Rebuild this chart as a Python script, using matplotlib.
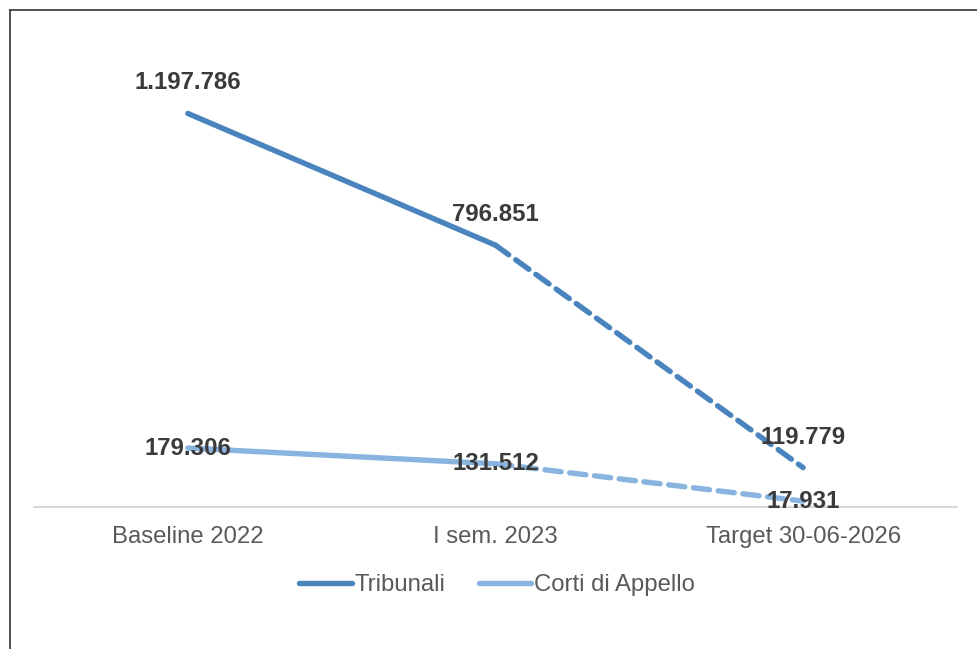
import matplotlib.pyplot as plt
from matplotlib.lines import Line2D

# data
categorie = ["Baseline 2022", "I sem. 2023", "Target 30-06-2026"]
tribunali = [1197786, 796851, 119779]
corti_appello = [179306, 131512, 17931]

col_trib = "#4a84bf"
col_corti = "#89b4e0"


def fmt_it(v):
    return f"{v:,}".replace(",", ".")


plt.rcParams['font.family'] = ['Liberation Sans', 'DejaVu Sans']

fig = plt.figure(figsize=(9.78, 6.49), dpi=100)
ax = fig.add_axes([0.0348, 0.2188, 0.9437, 0.7088])

x = list(range(len(categorie)))

for serie, col in [(tribunali, col_trib), (corti_appello, col_corti)]:
    ax.plot(x[:2], serie[:2], color=col, lw=3.9, solid_capstyle="round")
    ax.plot(x[1:], serie[1:], color=col, lw=3.9, ls=(0, (3, 1.6)),
            dash_capstyle="round")

# data labels
for i, v in enumerate(tribunali):
    ax.annotate(fmt_it(v), (x[i], v), xytext=(0, 22), textcoords="offset points",
                ha="center", va="center", fontsize=17.3, fontweight="bold",
                color="#3a3a3a")
for i, v in enumerate(corti_appello):
    ax.annotate(fmt_it(v), (x[i], v), xytext=(0, 0), textcoords="offset points",
                ha="center", va="center", fontsize=17.3, fontweight="bold",
                color="#3a3a3a")

ax.set_xlim(-0.5, 2.5)
ax.set_ylim(0, 1400000)
ax.set_xticks(x)
ax.set_xticklabels(categorie, fontsize=17.2, color="#595959")
ax.tick_params(axis="x", length=0, pad=14)
ax.set_yticks([])
for s in ["left", "right", "top"]:
    ax.spines[s].set_visible(False)
ax.spines["bottom"].set_color("#d0d0d0")
ax.spines["bottom"].set_linewidth(1.2)

handles = [Line2D([], [], color=col_trib, lw=3.9, solid_capstyle="round"),
           Line2D([], [], color=col_corti, lw=3.9, solid_capstyle="round")]
leg = fig.legend(handles, ["Tribunali", "Corti di Appello"], loc="center",
                 bbox_to_anchor=(497 / 978, 1 - 585 / 649), ncol=2, frameon=False,
                 fontsize=17.2, handlelength=2.2, handletextpad=0.12,
                 columnspacing=1.4)
for t in leg.get_texts():
    t.set_color("#595959")

# outer frame (left and top edges visible)
fig.add_artist(Line2D([9.5 / 978, 9.5 / 978], [0, 1 - 10 / 649], color="#333333",
                      lw=1.2, transform=fig.transFigure))
fig.add_artist(Line2D([9.5 / 978, 1], [1 - 10 / 649, 1 - 10 / 649], color="#333333",
                      lw=1.2, transform=fig.transFigure))

fig.savefig("out.png", dpi=100)
